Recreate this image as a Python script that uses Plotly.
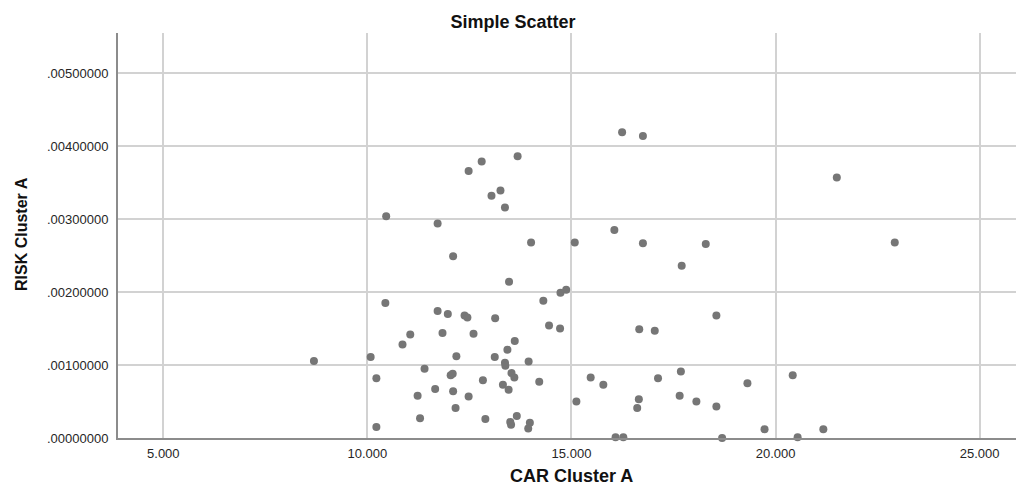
import plotly.graph_objects as go

car_cluster_a = [8.69, 10.08, 10.22, 10.22, 10.44, 10.46, 16.24, 16.75, 13.68, 12.80,
                 12.48, 13.26, 13.04, 13.37, 11.72, 16.05, 14.01, 15.08, 16.75, 12.10,
                 13.47, 14.73, 14.87, 14.31, 11.72, 11.97, 12.38, 12.45, 13.13, 16.66,
                 14.45, 14.72, 11.05, 11.84, 12.60, 10.86, 13.61, 13.43, 12.18, 13.12,
                 13.37, 13.38, 13.95, 11.40, 12.04, 12.09, 13.53, 13.60, 12.83, 14.21,
                 13.32, 13.46, 11.66, 12.10, 11.23, 12.48, 12.16, 11.29, 12.89, 13.66,
                 13.50, 13.52, 13.98, 13.94, 15.47, 15.78, 15.12, 16.65, 16.61, 16.08,
                 16.27, 21.50, 18.29, 22.92, 17.70, 17.04, 18.55, 17.68, 17.12, 19.31,
                 20.42, 17.65, 18.06, 18.55, 19.73, 21.17, 18.69, 20.54]

risk_cluster_a = [0.001055, 0.00111, 0.00082, 0.00015, 0.00185, 0.00304, 0.00419, 0.00414, 0.00386, 0.00379,
                  0.00366, 0.00339, 0.00332, 0.00316, 0.00294, 0.00285, 0.00268, 0.00268, 0.00267, 0.00249,
                  0.00214, 0.00199, 0.00203, 0.00188, 0.00174, 0.00170, 0.00168, 0.00165, 0.00164, 0.00149,
                  0.00154, 0.00150, 0.00142, 0.00144, 0.00143, 0.00128, 0.00133, 0.00121, 0.00112, 0.00111,
                  0.00103, 0.00099, 0.00105, 0.00095, 0.00086, 0.00088, 0.00089, 0.00083, 0.00079, 0.00077,
                  0.00073, 0.00066, 0.00067, 0.00064, 0.00058, 0.00057, 0.00041, 0.00027, 0.00026, 0.00030,
                  0.00022, 0.00018, 0.00021, 0.00013, 0.00083, 0.00073, 0.00050, 0.00053, 0.00041, 0.00001,
                  0.00001, 0.00357, 0.00266, 0.00268, 0.00236, 0.00147, 0.00168, 0.00091, 0.00082, 0.00075,
                  0.00086, 0.00058, 0.00050, 0.00043, 0.00012, 0.00012, 0.00000, 0.00001]

x_tick_vals = [5, 10, 15, 20, 25]
x_tick_text = ["5.000", "10.000", "15.000", "20.000", "25.000"]
y_tick_vals = [0.0, 0.001, 0.002, 0.003, 0.004, 0.005]
y_tick_text = [".00000000", ".00100000", ".00200000", ".00300000", ".00400000", ".00500000"]

fig = go.Figure()
fig.add_trace(go.Scatter(
    x=car_cluster_a, y=risk_cluster_a, mode="markers",
    marker=dict(color="rgb(118,118,118)", size=8, line=dict(width=0)),
    showlegend=False, cliponaxis=False,
))

W, H = 1016, 483
L, T, B = 118, 33, 45
fig.update_layout(
    template="none",
    width=W, height=H,
    margin=dict(l=L, r=0, t=T, b=B, pad=0),
    paper_bgcolor="white", plot_bgcolor="white",
    font=dict(family="Liberation Sans, Arial, sans-serif", color="#222"),
    title=dict(text="<b>Simple Scatter</b>", x=513 / W, xref="container", xanchor="center",
               y=1 - 21.5 / H, yref="container", yanchor="middle",
               font=dict(size=18, color="#111")),
)
fig.update_xaxes(
    range=[3.89, 25.89], tickvals=x_tick_vals, ticktext=x_tick_text,
    showgrid=True, gridcolor="#d2d2d2", gridwidth=1.5,
    showline=True, linecolor="#8c8c8c", linewidth=2,
    ticks="", tickfont=dict(size=13, color="#262626"), zeroline=False,
    ticklabelstandoff=2,
)
fig.update_yaxes(
    range=[0, 0.00555], tickvals=y_tick_vals, ticktext=y_tick_text,
    showgrid=True, gridcolor="#d2d2d2", gridwidth=1.5,
    showline=True, linecolor="#8c8c8c", linewidth=2,
    ticks="", tickfont=dict(size=13, color="#262626"), zeroline=False,
    ticklabelstandoff=5,
)

plot_h = H - T - B
fig.add_annotation(text="<b>CAR Cluster A</b>", xref="paper", yref="paper",
                   x=(571 - L) / (W - L), y=(H - B - 476) / plot_h,
                   xanchor="center", yanchor="middle", showarrow=False,
                   font=dict(size=18, color="#111"))
fig.add_annotation(text="<b>RISK Cluster A</b>", xref="paper", yref="paper",
                   x=(21 - L) / (W - L), y=(H - B - 234) / plot_h,
                   xanchor="center", yanchor="middle", textangle=-90, showarrow=False,
                   font=dict(size=16, color="#111"))

fig.write_html("out.html")
